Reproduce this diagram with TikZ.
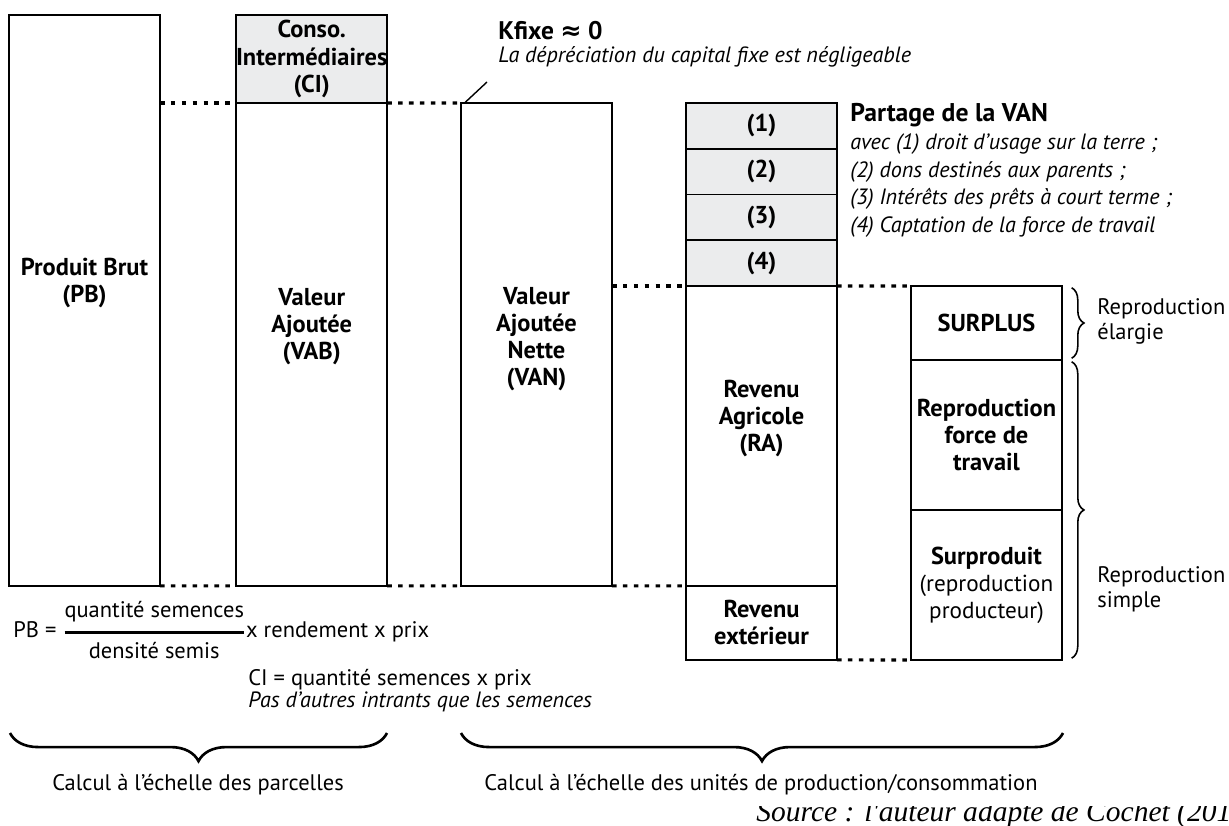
\documentclass[tikz,border=0pt]{standalone}
\usepackage{amsmath}
\usepackage{fontspec}
\setmainfont{PT Sans}
\newfontfamily\srcfont{Liberation Serif}
\newfontfamily\symfont{DejaVu Sans}
\usetikzlibrary{positioning,decorations.pathreplacing}

\definecolor{cigray}{RGB}{235,236,237}
\newcommand{\colfont}{\fontsize{13.9}{15.4}\selectfont\bfseries}
\newcommand{\notefont}{\fontsize{12.6}{15.9}\selectfont\itshape}
\newcommand{\plainfont}{\fontsize{12.8}{14.2}\selectfont}

\tikzset{
	colbox/.style={draw, line width=1.1pt, minimum width=3.02cm, inner sep=0pt, outer sep=0pt, align=center, font=\colfont},
	shaded/.style={colbox, fill=cigray},
	collabel/.style={align=center, inner sep=0pt, font=\colfont},
	dotline/.style={line width=1.8pt, dash pattern=on 2.6pt off 3.6pt},
	bigbrace/.style={line width=1.5pt, decorate, decoration={brace, mirror, amplitude=16pt}},
	smallbrace/.style={line width=0.9pt, decorate, decoration={brace, amplitude=7pt}},
}

\begin{document}
\begin{tikzpicture}[x=0.02cm, y=-0.02cm]

	\useasboundingbox (0,0) rectangle (1229,825);

	% colonnes
	\node[colbox, minimum height=11.42cm, anchor=north west] (pb) at (9,15) {};
	\node[shaded, minimum height=1.76cm, anchor=north west] (ci) at (236,15) {Conso.\\Intermédiaires\\(CI)};
	\node[colbox, minimum height=9.66cm, below=0pt of ci] (vab) {};
	\node[colbox, minimum height=9.66cm, anchor=north west] (van) at (461,103) {};

	\node[shaded, minimum height=0.915cm, anchor=north west] (p1) at (686,103) {(1)};
	\node[shaded, minimum height=0.915cm, below=0pt of p1] (p2) {(2)};
	\node[shaded, minimum height=0.915cm, below=0pt of p2] (p3) {(3)};
	\node[shaded, minimum height=0.915cm, below=0pt of p3] (p4) {(4)};
	\node[colbox, minimum height=6.0cm, below=0pt of p4] (ra) {};
	\node[colbox, minimum height=1.48cm, below=0pt of ra] (re) {Revenu\\extérieur};

	\node[colbox, minimum height=1.48cm, anchor=north west] (surp) at (911,286) {SURPLUS};
	\node[colbox, minimum height=3.0cm, below=0pt of surp] (rft) {Reproduction\\force de\\travail};
	\node[colbox, minimum height=3.0cm, below=0pt of rft] (sprod) {Surproduit\\{\mdseries\fontsize{13.2}{15.4}\selectfont(reproduction}\\{\mdseries\fontsize{13.2}{15.4}\selectfont producteur)}};

	\node[collabel] (pbl) at ([yshift=0.34cm]pb.center) {Produit Brut\\(PB)};
	\node[collabel] (vabl) at ([yshift=0.35cm]vab.center) {Valeur\\Ajoutée\\(VAB)};
	\node[collabel] (vanl) at ([yshift=0.1cm]van.center) {Valeur\\Ajoutée\\Nette\\(VAN)};
	\node[collabel] (ral) at ([yshift=0.34cm]ra.center) {Revenu\\Agricole\\(RA)};

	% pointilles
	\draw[dotline] (pb.east |- vab.north) -- (vab.north west);
	\draw[dotline] (vab.north east) -- (van.north west);
	\draw[dotline] (van.east |- ra.north) -- (ra.north west);
	\draw[dotline] (ra.north east) -- (surp.north west);
	\draw[dotline] (pb.south east) -- (vab.south west);
	\draw[dotline] (vab.south east) -- (van.south west);
	\draw[dotline] (van.south east) -- (ra.south west);
	\draw[dotline] (re.south east) -- (sprod.south west);

	% notes
	\node[anchor=west, inner sep=0pt, font=\fontsize{14.5}{16}\selectfont\bfseries] (kfix) at (498,31) {Kfixe {\symfont ≈} 0};
	\node[anchor=west, inner sep=0pt, font=\notefont] (kdep) at (498,57) {La dépréciation du capital fixe est négligeable};
	\coordinate (kend) at (487,82);
	\draw[line width=0.8pt] ([xshift=2pt]van.north west) -- (kend);

	\node[anchor=west, inner sep=0pt, font=\fontsize{14.6}{16}\selectfont\bfseries] (part) at (850,115) {Partage de la VAN};
	\node[anchor=north west, inner sep=0pt, align=left, font=\notefont] (partl) at (850,133) {avec (1) droit d'usage sur la terre ;\\(2) dons destinés aux parents ;\\(3) Intérêts des prêts à court terme ;\\(4) Captation de la force de travail};

	\draw[smallbrace] ([shift={(5.5pt,-1pt)}]surp.north east) -- ([shift={(5.5pt,1pt)}]surp.south east);
	\draw[smallbrace] ([shift={(5.5pt,-1pt)}]rft.north east) -- ([shift={(5.5pt,1pt)}]sprod.south east);
	\node[anchor=west, inner sep=0pt, align=left, font=\plainfont] (rel) at (1097,321) {Reproduction\\élargie};
	\node[anchor=west, inner sep=0pt, align=left, font=\plainfont] (rsim) at (1097,589) {Reproduction\\simple};

	% formules
	\node[anchor=west, inner sep=0pt, font=\plainfont] (pbeq) at (13,630) {PB = $\genfrac{}{}{1.6pt}{0}{\text{quantité semences}}{\text{densité semis}}$x rendement x prix};
	\node[anchor=west, inner sep=0pt, font=\plainfont] (cieq) at (248,680) {CI = quantité semences x prix};
	\node[anchor=west, inner sep=0pt, font=\notefont] (cinote) at (248,702) {Pas d'autres intrants que les semences};

	% echelles
	\coordinate (b1a) at (10,733);
	\coordinate (b1b) at (387,733);
	\coordinate (b2a) at (461,733);
	\coordinate (b2b) at (1063,733);
	\draw[bigbrace] (b1a) -- (b1b);
	\draw[bigbrace] (b2a) -- (b2b);
	\node[font=\plainfont] (calp) at (198,785) {Calcul à l'échelle des parcelles};
	\node[font=\plainfont] (calu) at (761,785) {Calcul à l'échelle des unités de production/consommation};

	\begin{scope}
		\clip (0,806) rectangle (1229,825);
		\node[anchor=base west, inner sep=0pt, font=\fontsize{16.8}{19}\selectfont\srcfont\itshape] (src) at (756,821) {Source : l'auteur adapté de Cochet (2011)};
	\end{scope}

\end{tikzpicture}
\end{document}
